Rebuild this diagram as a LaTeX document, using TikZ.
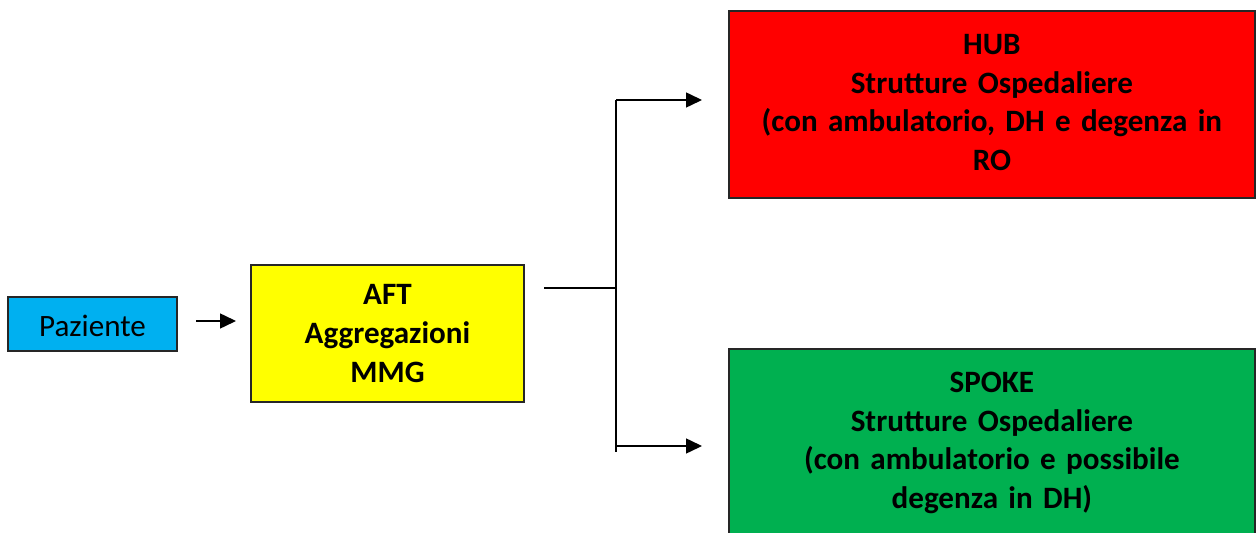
\documentclass[tikz,border=0pt]{standalone}
\usepackage{fontspec}
\setmainfont{Carlito}
\usetikzlibrary{positioning,calc,arrows.meta}

\definecolor{pazblue}{HTML}{00B0F0}
\definecolor{aftyellow}{HTML}{FFFF00}
\definecolor{hubred}{HTML}{FF0000}
\definecolor{spokegreen}{HTML}{00B050}

\tikzset{
  box/.style={draw=black!85, line width=1pt, inner sep=0pt, align=center,
    font=\fontsize{17.7}{22}\selectfont},
  dest/.style={box, anchor=north west, text width=10.52cm, minimum width=10.52cm,
    text height=0.87cm, font=\bfseries\fontsize{17.7}{22}\selectfont},
  link/.style={line width=0.85pt},
  arr/.style={link, -{Triangle[length=0.32cm,width=0.30cm]}},
}

\begin{document}
\begin{tikzpicture}
    \useasboundingbox (0,0) rectangle (25.12,-10.66);

    \node[box, fill=pazblue, minimum width=3.38cm, minimum height=1.08cm,
      text height=0.52cm, text depth=0cm] (paz) at (1.85,-6.48) {Paziente};
    \node[box, fill=aftyellow, minimum width=5.46cm, minimum height=2.74cm,
      font=\bfseries\fontsize{17.7}{22}\selectfont] (aft) at (7.75,-6.67) {AFT\\Aggregazioni\\MMG};

    \node[dest, fill=hubred, text depth=2.87cm] (hub) at (14.56,-0.20)
      {HUB\\Strutture Ospedaliere\\(con ambulatorio, DH e degenza in\\RO};
    \node[dest, fill=spokegreen, text depth=4.2cm] (spoke) at (14.56,-6.96)
      {SPOKE\\Strutture Ospedaliere\\(con ambulatorio e possibile\\degenza in DH)};

    % arrow ends
    \coordinate (p1) at (3.92,-6.42);
    \coordinate (p2) at (4.72,-6.42);
    \coordinate (s0) at (10.88,-5.76);
    \coordinate (s1) at (12.32,-5.76);
    \coordinate (t0) at (12.32,-2.00);
    \coordinate (t1) at (14.04,-2.00);
    \coordinate (b0) at (12.32,-8.92);
    \coordinate (b1) at (14.04,-8.92);
    \coordinate (b2) at (12.32,-9.04);

    \draw[arr] (p1) -- (p2);
    \draw[link] (s0) -- (s1);
    \draw[link] (t0) -- (b2);
    \draw[arr] (t0) -- (t1);
    \draw[arr] (b0) -- (b1);
\end{tikzpicture}
\end{document}
